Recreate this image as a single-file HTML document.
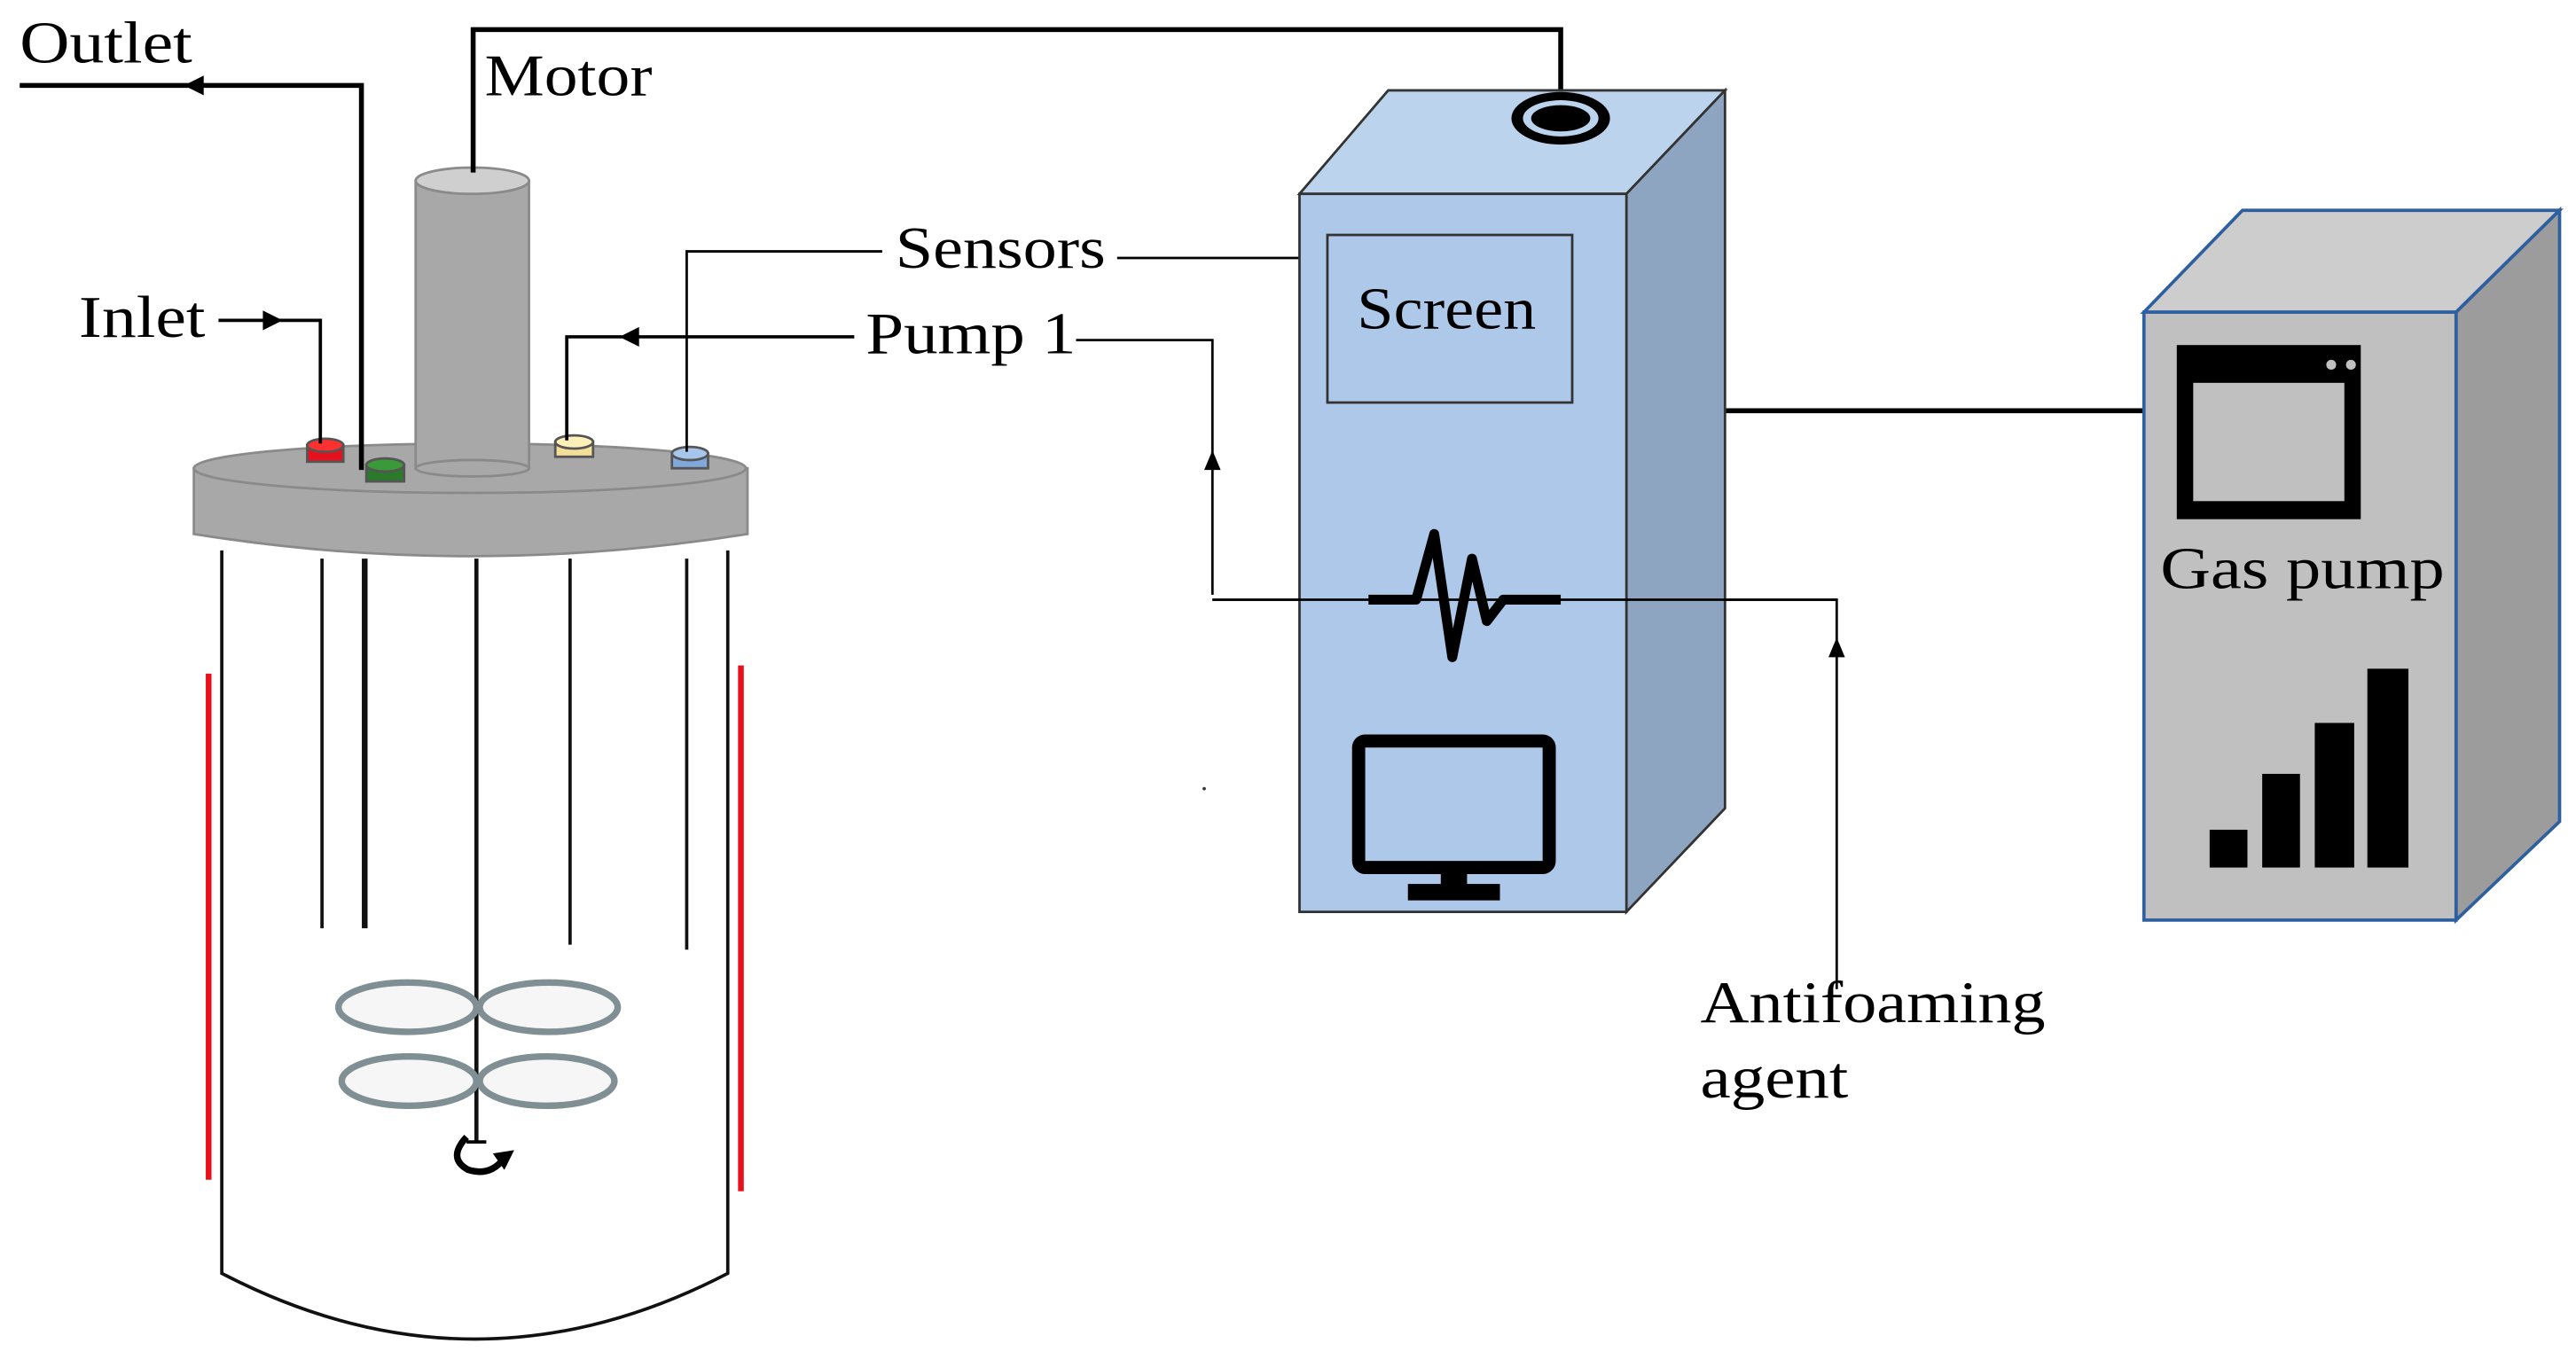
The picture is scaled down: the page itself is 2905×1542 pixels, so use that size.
<!DOCTYPE html>
<html><head><style>html,body{margin:0;padding:0;background:#fff;}svg{display:block}</style></head>
<body>
<svg width="2905" height="1542" viewBox="0 0 1568 832" preserveAspectRatio="none" xmlns="http://www.w3.org/2000/svg" font-family="Liberation Serif, serif" font-size="36">
<rect width="1568" height="832" fill="#fff"/>
<!-- vessel body -->
<path d="M135,335 L135,775 Q289,855 443,775 L443,335" fill="#fff" stroke="#111" stroke-width="2"/>
<line x1="127" y1="410" x2="127" y2="718" stroke="#e8101c" stroke-width="3.5"/>
<line x1="451" y1="405" x2="451" y2="725" stroke="#e8101c" stroke-width="3.5"/>
<line x1="196" y1="340" x2="196" y2="565" stroke="#111" stroke-width="2"/>
<line x1="222" y1="340" x2="222" y2="565" stroke="#111" stroke-width="3.5"/>
<line x1="347" y1="340" x2="347" y2="575" stroke="#111" stroke-width="2"/>
<line x1="418" y1="340" x2="418" y2="578" stroke="#111" stroke-width="2"/>
<line x1="290" y1="340" x2="290" y2="695" stroke="#111" stroke-width="2.5"/>
<g fill="#f6f6f6" stroke="#7f8f93" stroke-width="4">
<ellipse cx="248" cy="613" rx="42" ry="15"/><ellipse cx="334" cy="613" rx="42" ry="15"/>
<ellipse cx="249" cy="658" rx="41" ry="15"/><ellipse cx="333" cy="658" rx="41" ry="15"/>
</g>
<path d="M284,692 Q272,705 285,712 Q298,716 306,706" fill="none" stroke="#000" stroke-width="4"/>
<path d="M300,702 L313,700 L307,712 Z" fill="#000"/>
<line x1="284" y1="695" x2="296" y2="695" stroke="#000" stroke-width="2"/>
<!-- lid -->
<path d="M118,285 L118,325 Q286,352 455,325 L455,285 Z" fill="#a8a8a8" stroke="#8a8a8a" stroke-width="1.5"/>
<ellipse cx="286" cy="285" rx="168" ry="15" fill="#a8a8a8" stroke="#8a8a8a" stroke-width="1.5"/>
<!-- motor cylinder -->
<rect x="253" y="110" width="69" height="175" fill="#a8a8a8" stroke="#8a8a8a" stroke-width="1.5"/>
<ellipse cx="287.5" cy="285" rx="34.5" ry="5" fill="#a8a8a8" stroke="#8a8a8a" stroke-width="1.5"/>
<ellipse cx="287.5" cy="110" rx="34.5" ry="8" fill="#cfcfcf" stroke="#8a8a8a" stroke-width="1.5"/>
<!-- ports -->
<g stroke="#555" stroke-width="1.5">
<rect x="187" y="271" width="22" height="10" fill="#e8101c"/><ellipse cx="198" cy="271" rx="11" ry="4" fill="#ff3030"/>
<rect x="223" y="283" width="23" height="10" fill="#2a7a2a"/><ellipse cx="234.5" cy="283" rx="11.5" ry="4" fill="#3a9a3a"/>
<rect x="338" y="269" width="23" height="9" fill="#f3df9a"/><ellipse cx="349.5" cy="269" rx="11.5" ry="4" fill="#fff0b8"/>
<rect x="409" y="276" width="22" height="9" fill="#7fa8dc"/><ellipse cx="420" cy="276" rx="11" ry="4" fill="#a8c6ec"/>
</g>
<!-- connectors left -->
<g fill="none" stroke="#000">
<polyline points="12,52 220,52 220,286" stroke-width="3"/>
<polyline points="288,105 288,18 950,18 950,56" stroke-width="3"/>
<polyline points="133,195 195,195 195,270" stroke-width="2"/>
<polyline points="520,205 345,205 345,268" stroke-width="2"/>
<polyline points="537,153 418,153 418,275" stroke-width="1.5"/>
<line x1="680" y1="157" x2="791" y2="157" stroke-width="1.5"/>
<polyline points="655,207 738,207 738,362" stroke-width="1.5"/>
<polyline points="738,365 1118,365 1118,602" stroke-width="1.5"/>
<line x1="1015" y1="250" x2="1305" y2="250" stroke-width="3"/>
</g>
<g fill="#000">
<path d="M112,52 L124,46 L124,58 Z"/>
<path d="M172,195 L160,189 L160,201 Z"/>
<path d="M377,205 L389,199 L389,211 Z"/>
<path d="M738,274 L733,286 L743,286 Z"/>
<path d="M1118,388 L1113,400 L1123,400 Z"/>
</g>
<circle cx="733" cy="480" r="1" fill="#333"/>
<!-- texts -->
<text x="12" y="38" textLength="105" lengthAdjust="spacingAndGlyphs">Outlet</text>
<text x="295" y="58" textLength="102" lengthAdjust="spacingAndGlyphs">Motor</text>
<text x="48" y="205" textLength="77" lengthAdjust="spacingAndGlyphs">Inlet</text>
<text x="545" y="163" textLength="128" lengthAdjust="spacingAndGlyphs">Sensors</text>
<text x="527" y="215" textLength="128" lengthAdjust="spacingAndGlyphs">Pump 1</text>
<text x="1035" y="622" textLength="210" lengthAdjust="spacingAndGlyphs">Antifoaming</text>
<text x="1035" y="668" textLength="90" lengthAdjust="spacingAndGlyphs">agent</text>
<!-- controller -->
<path d="M791,118 L845,55 L1050,55 L990,118 Z" fill="#bcd3ee" stroke="#333" stroke-width="1.5"/>
<path d="M990,118 L1050,55 L1050,492 L990,555 Z" fill="#8da5c1" stroke="#333" stroke-width="1.5"/>
<rect x="791" y="118" width="199" height="437" fill="#adc8e8" stroke="#333" stroke-width="1.5"/>
<ellipse cx="950" cy="72" rx="30" ry="16" fill="#000"/>
<ellipse cx="950" cy="72" rx="23" ry="11" fill="#bcd3ee"/>
<ellipse cx="950" cy="72" rx="18" ry="8" fill="#000"/>
<rect x="808" y="143" width="149" height="102" fill="#adc8e8" stroke="#333" stroke-width="1.5"/>
<text x="826" y="200" textLength="109" lengthAdjust="spacingAndGlyphs">Screen</text>
<polyline points="833,365 862,365 873,325 884,400 896,340 905,378 915,365 950,365" fill="none" stroke="#000" stroke-width="6" stroke-linejoin="round"/>
<line x1="738" y1="365" x2="1118" y2="365" stroke="#000" stroke-width="1.5"/>
<rect x="827" y="451" width="116" height="77" rx="4" fill="#adc8e8" stroke="#000" stroke-width="8"/>
<rect x="877" y="530" width="16" height="10" fill="#000"/>
<rect x="857" y="538" width="56" height="10" fill="#000"/>
<!-- gas pump -->
<path d="M1305,190 L1365,128 L1558,128 L1495,190 Z" fill="#cdcdcd" stroke="#2e5fa0" stroke-width="2"/>
<path d="M1495,190 L1558,128 L1558,500 L1495,560 Z" fill="#9c9c9c" stroke="#2e5fa0" stroke-width="2"/>
<rect x="1305" y="190" width="190" height="370" fill="#c0c0c0" stroke="#2e5fa0" stroke-width="2"/>
<rect x="1325" y="210" width="112" height="106" fill="#000"/>
<rect x="1335" y="233" width="92" height="72" fill="#c0c0c0"/>
<circle cx="1419" cy="222" r="3" fill="#c0c0c0"/><circle cx="1431" cy="222" r="3" fill="#c0c0c0"/><circle cx="1443" cy="222" r="3" fill="#c0c0c0"/>
<text x="1315" y="358" textLength="173" lengthAdjust="spacingAndGlyphs">Gas pump</text>
<rect x="1345" y="505" width="23" height="23" fill="#000"/>
<rect x="1377" y="471" width="23" height="57" fill="#000"/>
<rect x="1409" y="440" width="24" height="88" fill="#000"/>
<rect x="1441" y="407" width="25" height="121" fill="#000"/>
</svg>
</body></html>
